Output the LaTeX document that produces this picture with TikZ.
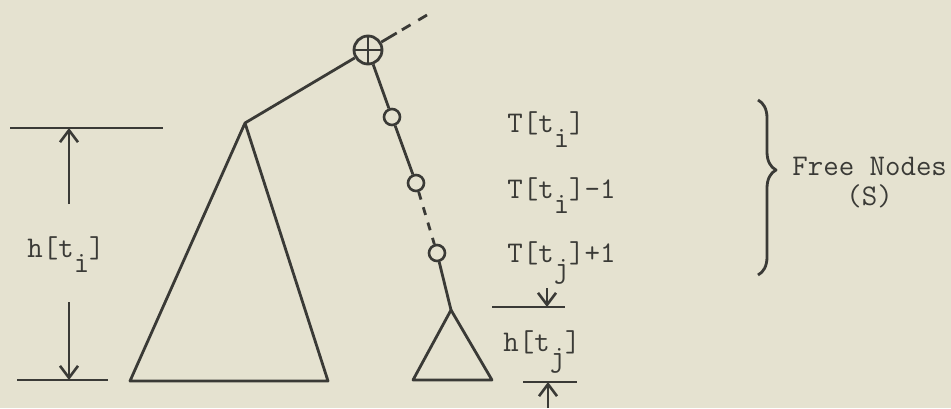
\documentclass[tikz,border=0pt]{standalone}
\usetikzlibrary{positioning,arrows.meta,decorations.pathreplacing}
\definecolor{paper}{HTML}{E5E2D0}
\definecolor{ink}{HTML}{3A3A36}
\newcommand\low[1]{\raisebox{-0.5em}{#1}}

\begin{document}
\begin{tikzpicture}[
  x=0.5pt, y=-0.5pt,
  tree/.style={draw=ink, line width=1.4pt, line join=round},
  free/.style={circle, draw=ink, line width=1.3pt, minimum size=8pt, inner sep=0pt},
  joint/.style={circle, draw=ink, line width=1.4pt, minimum size=14pt, inner sep=0pt,
    path picture={\draw[ink, line width=1.2pt]
      (path picture bounding box.north) -- (path picture bounding box.south)
      (path picture bounding box.west) -- (path picture bounding box.east);}},
  dim/.style={draw=ink, line width=1.3pt},
  dimarrow/.style={dim, -{Straight Barb[length=6pt,width=9pt,line width=1.3pt]}},
  lbl/.style={text=ink, font=\ttfamily\fontsize{15}{15}\selectfont, inner sep=0pt}
]
\fill[paper] (0,0) rectangle (951,408);
\useasboundingbox (0,0) rectangle (951,408);

% nodes of the path
\coordinate (apexI) at (245,123);
\node[joint] (root) at (368,50) {};
\node[free] (f1) at (392,117) {};
\node[free] (f2) at (416,183) {};
\node[free] (f3) at (437,253) {};
\coordinate (apexJ) at (451,310);
\coordinate (up) at (427,15);

% subtrees
\draw[tree] (apexI) -- (130,381) -- (328,381) -- cycle;
\draw[tree] (apexJ) -- (413,380) -- (492,380) -- cycle;

% links
\draw[tree] (apexI) -- (root);
\draw[tree] (root) -- (f1);
\draw[tree] (f1) -- (f2);
\draw[tree, dash pattern=on 4pt off 4pt] (f2) -- (f3);
\draw[tree] (f3) -- (apexJ);
\draw[tree, dash pattern=on 9pt off 3pt on 5pt off 4.5pt] (root) -- (up);

% height of t_i
\draw[dim] (10,128) -- (163,128);
\draw[dim] (17,380) -- (108,380);
\node[lbl, anchor=base west] (hi) at (27,257) {h[t\low{i}]};
\draw[dimarrow] (69,204) -- (69,128);
\draw[dimarrow] (69,302) -- (69,380);

% labels of the free nodes
\node[lbl, anchor=base west] (T1) at (507,132) {T[t\low{i}]};
\node[lbl, anchor=base west] (T2) at (507,198) {T[t\low{i}]-1};
\node[lbl, anchor=base west] (T3) at (507,262) {T[t\low{j}]+1};

% height of t_j
\draw[dim] (492,307) -- (565,307);
\draw[dimarrow] (547,288) -- (547,307);
\node[lbl, anchor=base west] (hj) at (503,351) {h[t\low{j}]};
\draw[dim] (523,382) -- (577,382);
\draw[dimarrow] (548,408) -- (548,382);

% free nodes brace
\draw[tree, decorate, decoration={brace, amplitude=9pt, aspect=0.4}] (758,100) -- (758,275);
\node[lbl, align=center, anchor=base west] (S) at (792,205) {Free Nodes\\(S)};
\end{tikzpicture}
\end{document}
